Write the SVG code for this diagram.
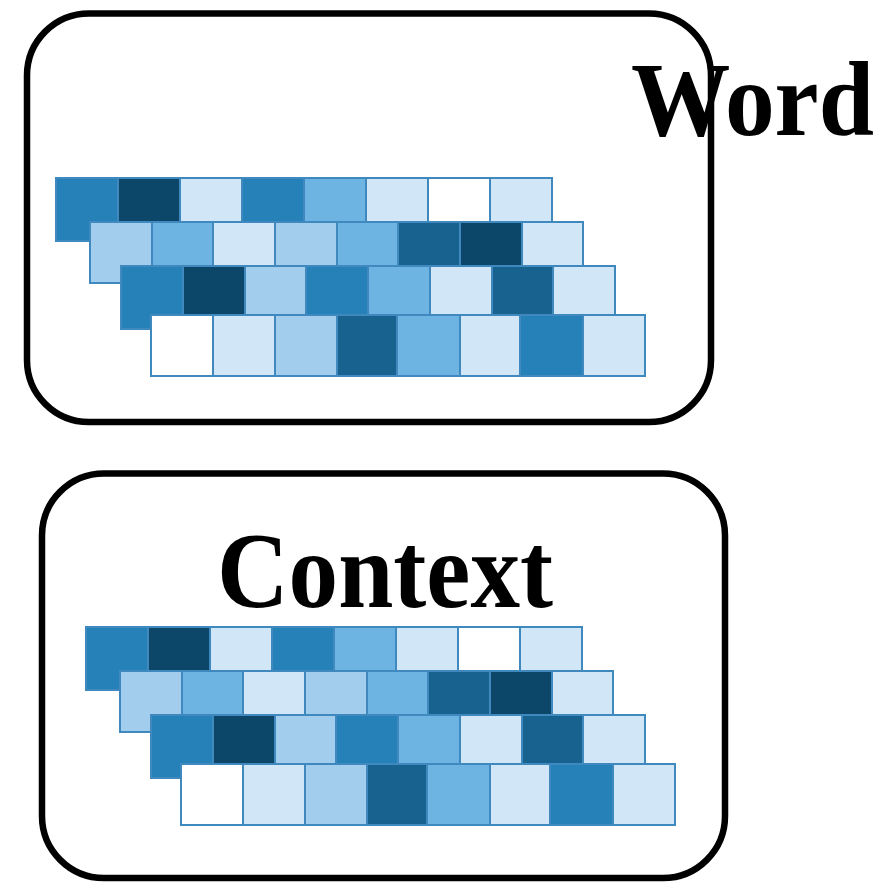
<svg xmlns="http://www.w3.org/2000/svg" xmlns:xlink="http://www.w3.org/1999/xlink" width="892" height="882" viewBox="0 0 892 882">
  <style>
    .box { fill: none; stroke: #000; stroke-width: 6.5; }
    .lbl { font-family: "Liberation Serif", "Times New Roman", serif; font-weight: bold; fill: #000; }
    .c rect { stroke: #3f89be; stroke-width: 2; }
    .m { fill: #2681b8; }
    .k { fill: #0c4669; }
    .d { fill: #17628f; }
    .lm { fill: #6db4e2; }
    .l { fill: #a2cdec; }
    .v { fill: #d1e6f6; }
    .w { fill: #ffffff; }
  </style>
  <defs>
    <g id="grid" class="c">
      <g id="row1">
        <rect class="m" x="56" y="178" width="62" height="63"/>
        <rect class="k" x="118" y="178" width="62" height="63"/>
        <rect class="v" x="180" y="178" width="62" height="63"/>
        <rect class="m" x="242" y="178" width="62" height="63"/>
        <rect class="lm" x="304" y="178" width="62" height="63"/>
        <rect class="v" x="366" y="178" width="62" height="63"/>
        <rect class="w" x="428" y="178" width="62" height="63"/>
        <rect class="v" x="490" y="178" width="62" height="63"/>
      </g>
      <g id="row2">
        <rect class="l" x="90" y="222" width="62" height="61"/>
        <rect class="lm" x="152" y="222" width="61" height="61"/>
        <rect class="v" x="213" y="222" width="62" height="61"/>
        <rect class="l" x="275" y="222" width="62" height="61"/>
        <rect class="lm" x="337" y="222" width="61" height="61"/>
        <rect class="d" x="398" y="222" width="62" height="61"/>
        <rect class="k" x="460" y="222" width="62" height="61"/>
        <rect class="v" x="522" y="222" width="61" height="61"/>
      </g>
      <g id="row3">
        <rect class="m" x="121" y="266" width="62" height="63"/>
        <rect class="k" x="183" y="266" width="62" height="63"/>
        <rect class="l" x="245" y="266" width="61" height="63"/>
        <rect class="m" x="306" y="266" width="62" height="63"/>
        <rect class="lm" x="368" y="266" width="62" height="63"/>
        <rect class="v" x="430" y="266" width="62" height="63"/>
        <rect class="d" x="492" y="266" width="61" height="63"/>
        <rect class="v" x="553" y="266" width="62" height="63"/>
      </g>
      <g id="row4">
        <rect class="w" x="151" y="315" width="62" height="61"/>
        <rect class="v" x="213" y="315" width="62" height="61"/>
        <rect class="l" x="275" y="315" width="62" height="61"/>
        <rect class="d" x="337" y="315" width="60" height="61"/>
        <rect class="lm" x="397" y="315" width="63" height="61"/>
        <rect class="v" x="460" y="315" width="60" height="61"/>
        <rect class="m" x="520" y="315" width="63" height="61"/>
        <rect class="v" x="583" y="315" width="62" height="61"/>
      </g>
    </g>
  </defs>
  <g id="word-node">
    <rect class="box" x="27" y="13.5" width="684" height="408.5" rx="62" ry="62"/>
    <use xlink:href="#grid" href="#grid"/>
    <text class="lbl" x="631" y="135" font-size="106" textLength="243" lengthAdjust="spacingAndGlyphs">Word</text>
  </g>
  <g id="context-node">
    <rect class="box" x="42" y="473.5" width="683" height="404.5" rx="62" ry="62"/>
    <use xlink:href="#grid" href="#grid" transform="translate(30,449)"/>
    <text class="lbl" x="217" y="607" font-size="108" textLength="336" lengthAdjust="spacingAndGlyphs">Context</text>
  </g>
  <g id="connectors"/>
</svg>
